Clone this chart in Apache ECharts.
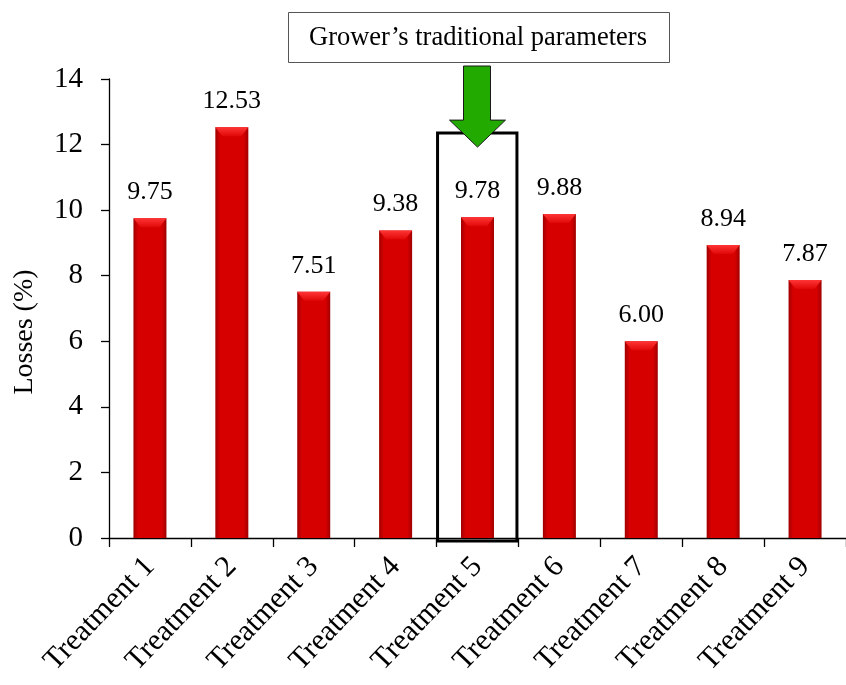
<!DOCTYPE html>
<html>
<head>
<meta charset="utf-8">
<title>Losses by treatment</title>
<script src="https://cdn.jsdelivr.net/npm/echarts@6/dist/echarts.min.js"></script>
<style>
  html, body { margin: 0; padding: 0; background: #ffffff; }
  #chart { width: 846px; height: 685px; }
</style>
</head>
<body>
<div id="chart"></div>
<script>
// Loss percentage for each treatment
const categories = ['Treatment 1', 'Treatment 2', 'Treatment 3', 'Treatment 4', 'Treatment 5',
                    'Treatment 6', 'Treatment 7', 'Treatment 8', 'Treatment 9'];
const losses = [9.75, 12.53, 7.51, 9.38, 9.78, 9.88, 6.00, 8.94, 7.87];
const yTicks = { min: 0, max: 14, interval: 2 };
const highlighted = 'Treatment 5';
const highlightTop = 12.35;   // top of the frame around the highlighted treatment
const calloutText = 'Grower\u2019s traditional parameters';

const FONT = '"Liberation Serif", "Times New Roman", serif';

const chart = echarts.init(document.getElementById('chart'), null, { renderer: 'canvas' });

const barFill = new echarts.graphic.LinearGradient(0, 0, 1, 0, [
  { offset: 0, color: '#a00000' },
  { offset: 0.14, color: '#d60000' },
  { offset: 0.86, color: '#d60000' },
  { offset: 1, color: '#a00000' }
]);

const capFill = new echarts.graphic.LinearGradient(0, 0, 0, 1, [
  { offset: 0, color: '#ff3535' },
  { offset: 1, color: '#e00808' }
]);

chart.setOption({
  animation: false,
  backgroundColor: '#ffffff',
  grid: { left: 109, right: -3, top: 79, bottom: 147, containLabel: false },
  xAxis: {
    type: 'category',
    data: categories,
    boundaryGap: true,
    axisLine: { show: true, lineStyle: { color: '#000', width: 1.3 } },
    axisTick: { show: true, length: 9, inside: false, lineStyle: { color: '#000', width: 1.3 } },
    axisLabel: {
      rotate: 46,
      margin: 24,
      color: '#000',
      fontFamily: FONT,
      fontSize: 30,
      interval: 0
    },
    splitLine: { show: false }
  },
  yAxis: {
    type: 'value',
    min: yTicks.min,
    max: yTicks.max,
    interval: yTicks.interval,
    axisLine: { show: true, lineStyle: { color: '#000', width: 1.3 } },
    axisTick: { show: true, length: 8, inside: false, lineStyle: { color: '#000', width: 1.3 } },
    axisLabel: {
      margin: 26,
      color: '#000',
      fontFamily: FONT,
      fontSize: 29
    },
    splitLine: { show: false }
  },
  series: [
    {
      type: 'bar',
      data: losses,
      barWidth: 33,
      itemStyle: { color: barFill },
      label: {
        show: true,
        position: 'top',
        distance: 13,
        color: '#000',
        fontFamily: FONT,
        fontSize: 26,
        formatter: p => p.value.toFixed(2)
      },
      z: 2
    },
    {
      // bevelled cap on top of each bar
      type: 'pictorialBar',
      data: losses,
      symbol: 'path://M0,0 L33,0 L26,9 L7,9 Z',
      symbolSize: [33, 9],
      symbolPosition: 'end',
      symbolOffset: [0, 0],
      barGap: '-100%',
      itemStyle: { color: capFill },
      silent: true,
      z: 3
    }
  ]
});

function drawAnnotations() {
  const idx = categories.indexOf(highlighted);
  const center = chart.convertToPixel({ xAxisIndex: 0 }, idx);
  const bandW = chart.convertToPixel({ xAxisIndex: 0 }, 1) - chart.convertToPixel({ xAxisIndex: 0 }, 0);
  const x0 = center - bandW / 2 + 1;
  const x1 = center + bandW / 2 - 1.5;
  const yTop = chart.convertToPixel({ yAxisIndex: 0 }, highlightTop);
  const yBase = chart.convertToPixel({ yAxisIndex: 0 }, 0);

  const tipY = yTop + 14;
  chart.setOption({
    graphic: [
      {
        type: 'rect',
        shape: { x: x0, y: yTop, width: x1 - x0, height: yBase + 3 - yTop },
        style: { fill: 'none', stroke: '#000', lineWidth: 3 },
        z: 10
      },
      {
        type: 'polygon',
        shape: {
          points: [
            [center - 14, 66], [center + 13, 66], [center + 13, tipY - 27],
            [center + 28, tipY - 27], [center, tipY], [center - 28, tipY - 27],
            [center - 14, tipY - 27]
          ]
        },
        style: { fill: '#22aa00', stroke: '#1a1a1a', lineWidth: 1 },
        z: 11
      },
      {
        type: 'rect',
        shape: { x: 288.5, y: 12.5, width: 381, height: 50 },
        style: { fill: '#fff', stroke: '#555', lineWidth: 1 },
        z: 10
      },
      {
        type: 'text',
        x: 478,
        y: 38,
        style: {
          text: calloutText,
          fontFamily: FONT,
          fontSize: 26.5,
          fill: '#000',
          align: 'center',
          verticalAlign: 'middle'
        },
        z: 11
      },
      {
        type: 'text',
        x: 25,
        y: 332,
        rotation: Math.PI / 2,
        style: {
          text: 'Losses (%)',
          fontFamily: FONT,
          fontSize: 28,
          fill: '#000',
          align: 'center',
          verticalAlign: 'middle'
        }
      }
    ]
  });
}
drawAnnotations();
</script>
</body>
</html>
